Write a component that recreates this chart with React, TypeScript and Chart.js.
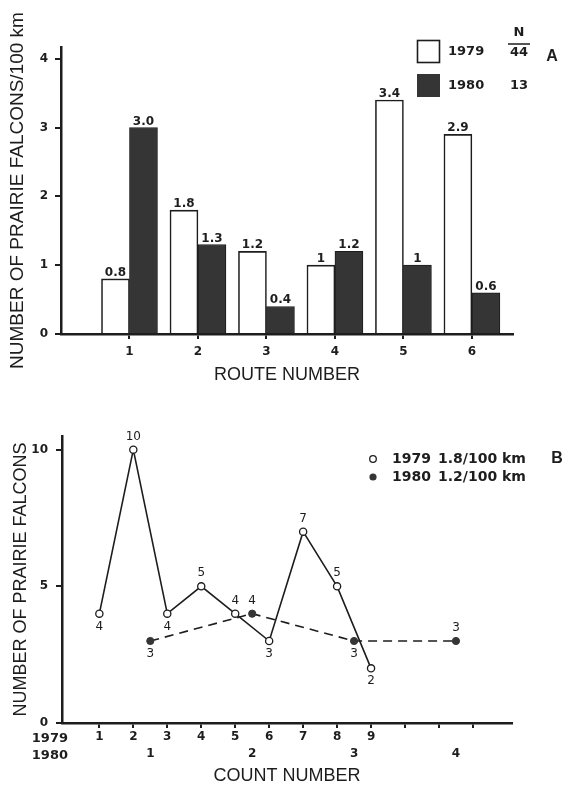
import React, { useEffect, useRef } from 'react';
import { Chart, registerables } from 'chart.js';

Chart.register(...registerables);

// ---------- Panel A data ----------
const routes = [1, 2, 3, 4, 5, 6];
const routeTickLabels = ['1', '2', '3', '4', '5', '6'];
const falcons1979 = [0.8, 1.8, 1.2, 1, 3.4, 2.9];
const falcons1980 = [3.0, 1.3, 0.4, 1.2, 1, 0.6];
const barLabels1979 = ['0.8', '1.8', '1.2', '1', '3.4', '2.9'];
const barLabels1980 = ['3.0', '1.3', '0.4', '1.2', '1', '0.6'];
const densityTicks = [0, 1, 2, 3, 4];
const years = ['1979', '1980'];
const nTotals = ['44', '13'];

// ---------- Panel B data ----------
const counts1979 = [1, 2, 3, 4, 5, 6, 7, 8, 9];
const birds1979 = [4, 10, 4, 5, 4, 3, 7, 5, 2];
const counts1980 = [1, 2, 3, 4];
const birds1980 = [3, 4, 3, 3];
const countTicks1979 = [1, 2, 3, 4, 5, 6, 7, 8, 9, 10, 11, 12];
const countTickLabels1979 = ['1', '2', '3', '4', '5', '6', '7', '8', '9', '', '', ''];
const countTicks1980 = [1, 2, 3, 4];
const countTickLabels1980 = ['1', '2', '3', '4'];
const birdTicks = [0, 5, 10];
const rates = ['1.8/100 km', '1.2/100 km'];

// ---------- styling ----------
const INK = '#1d1d1d';
const DARK = '#353535';
const SANS = "'Liberation Sans', Arial, Helvetica, sans-serif";
const NUM = "'DejaVu Sans', sans-serif";
const labelSide1979 = ['below', 'above', 'below', 'above', 'above', 'below', 'above', 'above', 'below'];
const labelSide1980 = ['below', 'above', 'below', 'above'];

// 1979 count axis range, and how 1980 counts line up with it
const X79_MIN = -0.1;
const X79_MAX = 13.15;
const X80_START = 2.5; // 1980 count 1 sits at 1979 position 2.5
const X80_STEP = 3;
const to80 = (v: number) => 1 + (v - X80_START) / X80_STEP;

const setTicks = (vals: number[]) => (s: any) => {
  s.ticks = vals.map((v) => ({ value: v }));
};

const barLabelPlugin = {
  id: 'barLabels',
  afterDatasetsDraw(chart: any) {
    const ctx = chart.ctx;
    ctx.save();
    ctx.font = `bold 12px ${NUM}`;
    ctx.fillStyle = INK;
    ctx.textAlign = 'center';
    ctx.textBaseline = 'alphabetic';
    const texts = [barLabels1979, barLabels1980];
    chart.data.datasets.forEach((_d: any, di: number) => {
      const meta = chart.getDatasetMeta(di);
      meta.data.forEach((el: any, i: number) => {
        ctx.fillText(texts[di][i], el.x, el.y - 3);
      });
    });
    ctx.restore();
  },
  afterDraw(chart: any) {
    const ctx = chart.ctx;
    ctx.save();
    // legend boxes
    ctx.lineWidth = 1.6;
    ctx.strokeStyle = INK;
    ctx.fillStyle = '#ffffff';
    ctx.fillRect(417, 40, 23, 23);
    ctx.strokeRect(417.5, 40.5, 22, 22);
    ctx.fillStyle = DARK;
    ctx.fillRect(417, 74, 23, 23);
    ctx.fillStyle = INK;
    ctx.font = `bold 13px ${NUM}`;
    ctx.textBaseline = 'middle';
    ctx.textAlign = 'left';
    ctx.fillText(years[0], 448, 52);
    ctx.fillText(years[1], 448, 86);
    ctx.textAlign = 'center';
    ctx.fillText('N', 519, 33);
    ctx.fillText(nTotals[0], 519, 53);
    ctx.fillText(nTotals[1], 519, 86);
    ctx.beginPath();
    ctx.lineWidth = 1.5;
    ctx.moveTo(508, 44);
    ctx.lineTo(530, 44);
    ctx.stroke();
    ctx.font = `bold 16px ${SANS}`;
    ctx.fillText('A', 552, 57);
    ctx.restore();
  },
};

const pointLabelPlugin = {
  id: 'pointLabels',
  afterDatasetsDraw(chart: any) {
    const ctx = chart.ctx;
    ctx.save();
    ctx.font = `12px ${NUM}`;
    ctx.fillStyle = INK;
    ctx.textAlign = 'center';
    ctx.textBaseline = 'middle';
    const values = [birds1979, birds1980];
    const sides = [labelSide1979, labelSide1980];
    chart.data.datasets.forEach((_d: any, di: number) => {
      const meta = chart.getDatasetMeta(di);
      meta.data.forEach((el: any, i: number) => {
        const dy = sides[di][i] === 'above' ? -13 : 13;
        ctx.fillText(String(values[di][i]), el.x, el.y + dy);
      });
    });
    ctx.restore();
  },
  afterDraw(chart: any) {
    const ctx = chart.ctx;
    const xs = chart.scales.x;
    const x2 = chart.scales.x2;
    ctx.save();
    ctx.fillStyle = INK;
    ctx.font = `bold 13px ${NUM}`;
    ctx.textAlign = 'right';
    ctx.textBaseline = 'middle';
    // row captions for the two count axes
    ctx.fillText(years[0], 68, xs.top + 5 + 2 + 8.4);
    ctx.fillText(years[1], 68, x2.top + 1 + 8.4);
    // legend
    const rowY = [69, 87];
    ctx.lineWidth = 1.3;
    ctx.strokeStyle = INK;
    ctx.beginPath();
    ctx.arc(373, rowY[0], 3.3, 0, Math.PI * 2);
    ctx.fillStyle = '#ffffff';
    ctx.fill();
    ctx.stroke();
    ctx.beginPath();
    ctx.arc(373, rowY[1], 3.6, 0, Math.PI * 2);
    ctx.fillStyle = DARK;
    ctx.fill();
    ctx.fillStyle = INK;
    ctx.textAlign = 'left';
    ctx.font = `bold 14px ${NUM}`;
    ctx.fillText(years[0], 392, rowY[0]);
    ctx.fillText(years[1], 392, rowY[1]);
    ctx.fillText(rates[0], 438, rowY[0]);
    ctx.fillText(rates[1], 438, rowY[1]);
    ctx.textAlign = 'center';
    ctx.font = `bold 16px ${SANS}`;
    ctx.fillText('B', 557, rowY[0]);
    ctx.restore();
  },
};

function PanelA() {
  const ref = useRef<HTMLCanvasElement | null>(null);
  useEffect(() => {
    if (!ref.current) return;
    const chart = new Chart(ref.current, {
      type: 'bar',
      data: {
        datasets: [
          {
            label: years[0],
            data: routes.map((r, i) => ({ x: r, y: falcons1979[i] })),
            backgroundColor: '#ffffff',
            borderColor: INK,
            borderWidth: 1.6,
            barThickness: 28,
          },
          {
            label: years[1],
            data: routes.map((r, i) => ({ x: r, y: falcons1980[i] })),
            backgroundColor: DARK,
            borderColor: INK,
            borderWidth: 1,
            barThickness: 28,
          },
        ],
      } as any,
      options: {
        animation: false,
        responsive: false,
        maintainAspectRatio: false,
        layout: { padding: { left: 0, top: 47, right: 53, bottom: 0 } },
        plugins: { legend: { display: false }, tooltip: { enabled: false } },
        scales: {
          x: {
            type: 'linear',
            min: 0,
            max: 6.6,
            offset: false,
            afterBuildTicks: setTicks(routes),
            afterFit: (s: any) => { s.height = 56; },
            grid: { drawOnChartArea: false, drawTicks: true, tickLength: 5, color: INK, lineWidth: 2, offset: false },
            border: { display: true, color: INK, width: 2.5 },
            ticks: {
              padding: 6,
              autoSkip: false,
              maxRotation: 0,
              color: INK,
              font: { family: NUM, size: 12, weight: 'bold' },
              callback: (_v: any, i: number) => routeTickLabels[i],
            },
            title: {
              display: true,
              text: 'ROUTE NUMBER',
              color: INK,
              font: { family: SANS, size: 18 },
              padding: { top: 0, bottom: 4 },
            },
          },
          y: {
            min: 0,
            max: 4.17,
            afterBuildTicks: setTicks(densityTicks),
            afterFit: (s: any) => { s.width = 61; },
            grid: { drawOnChartArea: false, tickLength: 6, color: INK, lineWidth: 2 },
            border: { display: true, color: INK, width: 2.5 },
            ticks: {
              padding: 7,
              color: INK,
              font: { family: NUM, size: 12, weight: 'bold' },
              callback: (v: any) => String(v),
            },
            title: {
              display: true,
              text: 'NUMBER OF PRAIRIE FALCONS/100 km',
              color: INK,
              font: { family: SANS, size: 19 },
              padding: { top: 6, bottom: 0 },
            },
          },
        },
      } as any,
      plugins: [barLabelPlugin],
    });
    return () => chart.destroy();
  }, []);
  return (
    <canvas
      ref={ref}
      width={566}
      height={390}
      style={{ position: 'absolute', left: 0, top: 0, width: 566, height: 390 }}
    />
  );
}

function PanelB() {
  const ref = useRef<HTMLCanvasElement | null>(null);
  useEffect(() => {
    if (!ref.current) return;
    const chart = new Chart(ref.current, {
      type: 'line',
      data: {
        datasets: [
          {
            label: years[0],
            data: counts1979.map((c, i) => ({ x: c, y: birds1979[i] })),
            xAxisID: 'x',
            yAxisID: 'y',
            borderColor: INK,
            borderWidth: 1.6,
            tension: 0,
            fill: false,
            pointRadius: 3.6,
            pointBorderWidth: 1.3,
            pointBorderColor: INK,
            pointBackgroundColor: '#ffffff',
          },
          {
            label: years[1],
            data: counts1980.map((c, i) => ({ x: c, y: birds1980[i] })),
            xAxisID: 'x2',
            yAxisID: 'y',
            borderColor: INK,
            borderWidth: 1.6,
            borderDash: [9, 6],
            tension: 0,
            fill: false,
            pointRadius: 3.6,
            pointBorderWidth: 1,
            pointBorderColor: DARK,
            pointBackgroundColor: DARK,
          },
        ],
      } as any,
      options: {
        animation: false,
        responsive: false,
        maintainAspectRatio: false,
        layout: { padding: { left: 0, top: 46, right: 54, bottom: 0 } },
        plugins: { legend: { display: false }, tooltip: { enabled: false } },
        scales: {
          x: {
            type: 'linear',
            position: 'bottom',
            weight: 0,
            min: X79_MIN,
            max: X79_MAX,
            offset: false,
            afterBuildTicks: setTicks(countTicks1979),
            afterFit: (s: any) => { s.height = 23; },
            grid: { drawOnChartArea: false, tickLength: 5, color: INK, lineWidth: 2 },
            border: { display: true, color: INK, width: 2.5 },
            ticks: {
              padding: 2,
              autoSkip: false,
              maxRotation: 0,
              color: INK,
              font: { family: NUM, size: 12, weight: 'bold' },
              callback: (_v: any, i: number) => countTickLabels1979[i],
            },
          },
          x2: {
            type: 'linear',
            position: 'bottom',
            weight: 1,
            min: to80(X79_MIN),
            max: to80(X79_MAX),
            offset: false,
            afterBuildTicks: setTicks(countTicks1980),
            afterFit: (s: any) => { s.height = 39; },
            grid: { display: false, drawOnChartArea: false, drawTicks: false, tickLength: 0 },
            border: { display: false },
            ticks: {
              padding: 1,
              autoSkip: false,
              maxRotation: 0,
              color: INK,
              font: { family: NUM, size: 12, weight: 'bold' },
              callback: (_v: any, i: number) => countTickLabels1980[i],
            },
            title: {
              display: true,
              text: 'COUNT NUMBER',
              color: INK,
              font: { family: SANS, size: 18, lineHeight: 1 },
              padding: { top: 0, bottom: 0 },
            },
          },
          y: {
            min: 0,
            max: 10.5,
            afterBuildTicks: setTicks(birdTicks),
            afterFit: (s: any) => { s.width = 62; },
            grid: { drawOnChartArea: false, tickLength: 6, color: INK, lineWidth: 2 },
            border: { display: true, color: INK, width: 2.5 },
            ticks: {
              padding: 8,
              color: INK,
              font: { family: NUM, size: 12, weight: 'bold' },
              callback: (v: any) => String(v),
            },
            title: {
              display: true,
              text: 'NUMBER OF PRAIRIE FALCONS',
              color: INK,
              font: { family: SANS, size: 18 },
              padding: { top: 10, bottom: 0 },
            },
          },
        },
      } as any,
      plugins: [pointLabelPlugin],
    });
    return () => chart.destroy();
  }, []);
  return (
    <canvas
      ref={ref}
      width={566}
      height={395}
      style={{ position: 'absolute', left: 0, top: 390, width: 566, height: 395 }}
    />
  );
}

export default function App() {
  return (
    <div
      style={{
        position: 'absolute',
        left: 0,
        top: 0,
        width: 566,
        height: 785,
        overflow: 'hidden',
        background: '#ffffff',
      }}
    >
      <PanelA />
      <PanelB />
    </div>
  );
}
